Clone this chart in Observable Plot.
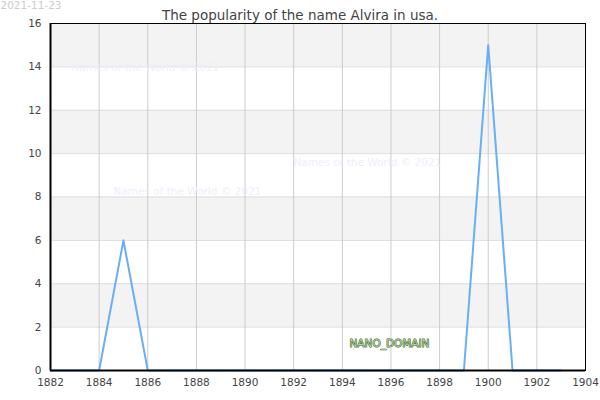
<!DOCTYPE html>
<html><head><meta charset="utf-8">
<script src="https://cdn.jsdelivr.net/npm/d3@7"></script>
<script src="https://cdn.jsdelivr.net/npm/@observablehq/plot@0.6"></script>
<style>body{margin:0;background:#fff}svg{font-family:"DejaVu Sans",sans-serif}</style>
</head><body><div id="chart"></div>
<script>
const years = [1882,1883,1884,1885,1886,1887,1888,1889,1890,1891,1892,1893,1894,1895,1896,1897,1898,1899,1900,1901,1902,1903];
const counts = [0,0,0,6,0,0,0,0,0,0,0,0,0,0,0,0,0,0,15,0,0,0];
const xTicks = [1882,1884,1886,1888,1890,1892,1894,1896,1898,1900,1902,1904];
const yTicks = [0,2,4,6,8,10,12,14,16];
const bandLow = [2,6,10,14];
const bandHigh = [4,8,12,16];
const title = "The popularity of the name Alvira in usa.";
const dateLabel = "2021-11-23";
const watermark = "Names of the World © 2021";
const badge = "NANO_DOMAIN";

const data = years.map((y,i)=>({year:y,count:counts[i]}));
const bands = bandLow.map((b,i)=>({y1:b,y2:bandHigh[i]}));
const xMin = xTicks[0], xMax = xTicks[xTicks.length-1];

const plot = Plot.plot({
  width:600, height:400,
  marginTop:23, marginLeft:50, marginRight:15, marginBottom:30,
  style:{fontFamily:"DejaVu Sans, sans-serif", fontSize:"10.5px", color:"#444", background:"#fff", overflow:"visible"},
  x:{domain:[xMin,xMax], label:null},
  y:{domain:[0,16], label:null},
  marks:[
    Plot.rect(bands,{x1:()=>xMin,x2:()=>xMax,y1:"y1",y2:"y2",fill:"#f3f3f3"}),
    Plot.ruleY(yTicks,{stroke:"#dddddd",strokeWidth:1}),
    Plot.ruleX(xTicks,{stroke:"#cccccc",strokeWidth:1}),
    Plot.text([watermark],{frameAnchor:"top-left",dx:21,dy:40,textAnchor:"start",fill:"#eeeefc",fontSize:10.5}),
    Plot.text([watermark],{frameAnchor:"top-left",dx:63,dy:164,textAnchor:"start",fill:"#eeeefc",fontSize:10.5}),
    Plot.text([watermark],{frameAnchor:"top-left",dx:243,dy:135,textAnchor:"start",fill:"#eeeefc",fontSize:10.5}),
    Plot.line(data,{x:"year",y:"count",stroke:"#6aaef5",strokeWidth:2}),
    Plot.frame({stroke:"#000",strokeWidth:1}),
    Plot.ruleX([xMin],{stroke:"#000",strokeWidth:2}),
    Plot.ruleY([0],{stroke:"#000",strokeWidth:2}),
    Plot.axisX({ticks:xTicks, tickFormat:d=>String(d), tickSize:0, tickPadding:8, fill:"#444", fontSize:10.5, label:null}),
    Plot.axisY({ticks:yTicks, tickSize:0, tickPadding:9, fill:"#444", fontSize:10.5, label:null}),
    Plot.text([badge],{frameAnchor:"bottom-left",dx:299,dy:-24,textAnchor:"start",fill:"#b4d59a",stroke:"#2e4f1c",strokeWidth:0.9,paintOrder:"stroke",fontSize:10.5}),
    Plot.text([title],{frameAnchor:"top",dx:-18,dy:-13,fill:"#444",fontSize:13.5}),
    Plot.text([dateLabel],{frameAnchor:"top-left",dx:-50,dy:-22,textAnchor:"start",fill:"#cccccc",fontSize:10.5})
  ]
});
document.getElementById("chart").appendChild(plot);
</script></body></html>
